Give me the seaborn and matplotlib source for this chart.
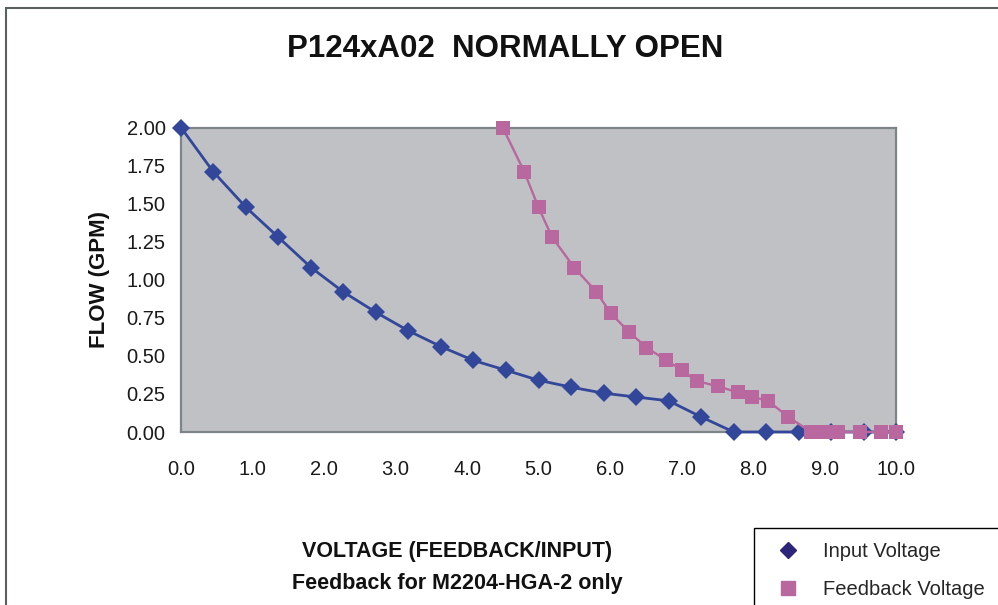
import matplotlib
matplotlib.use("Agg")
import matplotlib.pyplot as plt
from matplotlib.lines import Line2D
from matplotlib.patches import Rectangle
import pandas as pd
import seaborn as sns

# values
input_volts = [0.0, 0.45, 0.91, 1.36, 1.82, 2.27, 2.73, 3.18, 3.64, 4.09, 4.55, 5.0,
               5.45, 5.91, 6.36, 6.82, 7.27, 7.73, 8.18, 8.64, 9.09, 9.55, 10.0]
input_flow = [2.0, 1.71, 1.475, 1.28, 1.08, 0.92, 0.785, 0.665, 0.56, 0.47, 0.405, 0.34,
              0.295, 0.255, 0.23, 0.205, 0.10, 0.0, 0.0, 0.0, 0.0, 0.0, 0.0]
feedback_volts = [4.5, 4.8, 5.0, 5.19, 5.5, 5.81, 6.01, 6.26, 6.51, 6.79, 7.01, 7.21,
                  7.51, 7.79, 7.99, 8.21, 8.49, 8.81, 8.99, 9.19, 9.5, 9.79, 10.0]
feedback_flow = [2.0, 1.71, 1.475, 1.28, 1.08, 0.92, 0.78, 0.66, 0.555, 0.47, 0.405, 0.335,
                 0.30, 0.26, 0.23, 0.205, 0.10, 0.0, 0.0, 0.0, 0.0, 0.0, 0.0]
x_ticks = [0, 1, 2, 3, 4, 5, 6, 7, 8, 9, 10]
y_ticks = [0.0, 0.25, 0.5, 0.75, 1.0, 1.25, 1.5, 1.75, 2.0]

df_in = pd.DataFrame({"volts": input_volts, "flow": input_flow})
df_fb = pd.DataFrame({"volts": feedback_volts, "flow": feedback_flow})

sns.set_style("white")
plt.rcParams['font.family'] = ['Liberation Sans', 'DejaVu Sans']

blue = "#33479A"
pink = "#B8679F"

fig = plt.figure(figsize=(9.98, 6.05), dpi=100)
ax = fig.add_axes([181 / 998, 1 - 432 / 605, 715 / 998, 304.5 / 605])
ax.set_facecolor("#C0C1C5")

sns.lineplot(data=df_in, x="volts", y="flow", ax=ax, sort=False, estimator=None,
             color=blue, lw=2, marker="D", markersize=9, markeredgewidth=0,
             clip_on=False, zorder=3)
sns.lineplot(data=df_fb, x="volts", y="flow", ax=ax, sort=False, estimator=None,
             color=pink, lw=1.7, marker="s", markersize=10, markeredgewidth=0,
             clip_on=False, zorder=4)

ax.set_xlim(0, 10)
ax.set_ylim(0, 2)
ax.set_xticks(x_ticks)
ax.set_xticklabels(["%.1f" % v for v in x_ticks])
ax.set_yticks(y_ticks)
ax.set_yticklabels(["%.2f" % v for v in y_ticks])
ax.tick_params(axis='both', length=0, labelsize=14.5, colors="#1a1a1a")
ax.tick_params(axis='x', pad=20)
ax.tick_params(axis='y', pad=11)
for s in ax.spines.values():
    s.set_color("#7E8589")
    s.set_linewidth(1.6)
    s.set_visible(True)

ax.set_xlabel("")
ax.set_ylabel("FLOW (GPM)", fontsize=16, fontweight="bold", color="#111111")
ax.yaxis.set_label_coords((110 - 181) / 715, 0.5)

fig.text(505 / 998, 1 - 49 / 605, "P124xA02  NORMALLY OPEN", ha="center", va="center",
         fontsize=22.5, fontweight="bold", color="#111111")
fig.text(457 / 998, 1 - 552 / 605, "VOLTAGE (FEEDBACK/INPUT)", ha="center", va="center",
         fontsize=15.5, fontweight="bold", color="#111111")
fig.text(457 / 998, 1 - 583 / 605, "Feedback for M2204-HGA-2 only", ha="center", va="center",
         fontsize=15.5, fontweight="bold", color="#111111")

# legend box runs off the right/bottom edge like the original
handles = [Line2D([], [], marker="D", color="#2D2579", linestyle="none", markersize=8.5),
           Line2D([], [], marker="s", color=pink, linestyle="none", markersize=10)]
leg = fig.legend(handles, ["Input Voltage", "Feedback Voltage"], loc="upper left",
                 bbox_to_anchor=(754 / 998, 1 - 532 / 605), borderaxespad=0,
                 fontsize=14.5, frameon=False, borderpad=0.5,
                 handlelength=2.4, handletextpad=0.55, labelspacing=0.95)
fig.add_artist(Rectangle((754 / 998, -0.1), 0.5, 0.1 + 1 - 528 / 605, transform=fig.transFigure,
                         fill=False, edgecolor="black", lw=1, clip_on=False))

# outer chart border (top and left visible)
fig.add_artist(Rectangle((5.5 / 998, -0.1), 2, 1.1 - 7.5 / 605, transform=fig.transFigure,
                         fill=False, edgecolor="#5A5F5F", lw=1.5, clip_on=False))

plt.savefig("out.png", dpi=100)
